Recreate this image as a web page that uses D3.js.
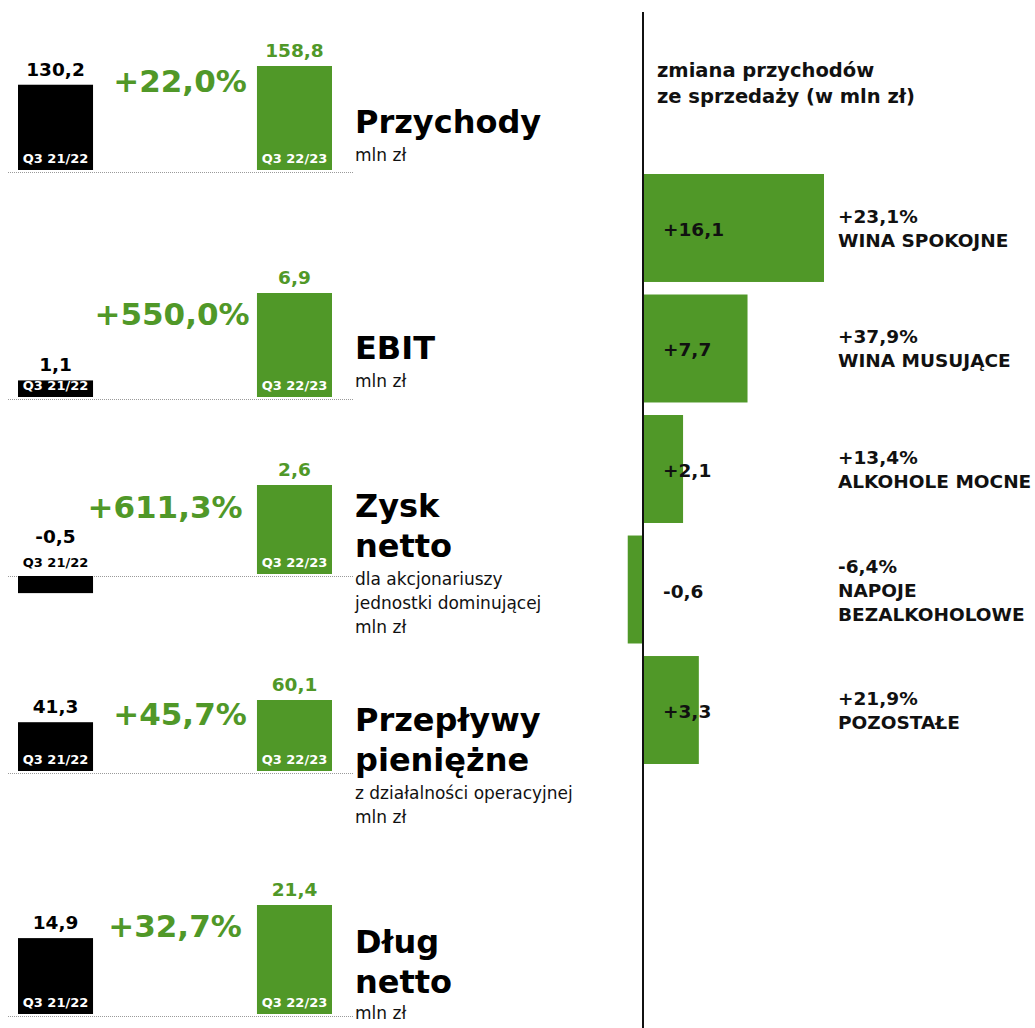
<!DOCTYPE html>
<html lang="pl">

<head>
  <meta charset="utf-8">
  <title>Wyniki Q3 22/23</title>
  <script src="https://cdn.jsdelivr.net/npm/d3@7/dist/d3.min.js"></script>
  <style>
    body { margin: 0; background: #fff; }
    svg text { font-family: "DejaVu Sans", Verdana, sans-serif; }
  </style>
</head>

<body>
  <script>
    // ---- data ----
    var periods = ["Q3 21/22", "Q3 22/23"];
    var prevValues = [130.2, 1.1, -0.5, 41.3, 14.9];
    var currValues = [158.8, 6.9, 2.6, 60.1, 21.4];
    var changeLabels = ["+22,0%", "+550,0%", "+611,3%", "+45,7%", "+32,7%"];
    var titles = [["Przychody"], ["EBIT"], ["Zysk", "netto"], ["Przepływy", "pieniężne"], ["Dług", "netto"]];
    var subtitles = [["mln zł"], ["mln zł"], ["dla akcjonariuszy", "jednostki dominującej", "mln zł"],
                     ["z działalności operacyjnej", "mln zł"], ["mln zł"]];

    var segments = ["WINA SPOKOJNE", "WINA MUSUJĄCE", "ALKOHOLE MOCNE", "NAPOJE BEZALKOHOLOWE", "POZOSTAŁE"];
    var segmentLines = [["WINA SPOKOJNE"], ["WINA MUSUJĄCE"], ["ALKOHOLE MOCNE"], ["NAPOJE", "BEZALKOHOLOWE"], ["POZOSTAŁE"]];
    var segmentChange = [16.1, 7.7, 2.1, -0.6, 3.3];
    var segmentPct = ["+23,1%", "+37,9%", "+13,4%", "-6,4%", "+21,9%"];
    var panelTitle = ["zmiana przychodów", "ze sprzedaży (w mln zł)"];

    // ---- layout ----
    var w = 1035;
    var h = 1028;
    var green = "#509828";
    var rowBase = [172, 399, 576, 773, 1016];
    var rowBarMax = [104, 104, 89, 71, 109];
    var changeX = [180, 172, 165, 180, 175];
    var changeY = [92, 325, 518, 725, 937];
    var titleY = [133, 359, 517, 731, 953];
    var subY = [161, 387, 585, 799, 1019];

    var fmt = function (v) { return String(v.toFixed(1)).replace(".", ","); };
    var fmtSigned = function (v) { return (v > 0 ? "+" : "") + fmt(v); };

    var svg = d3.select("body").append("svg")
                .attr("width", w)
                .attr("height", h);

    // ---- left panel: five KPI rows ----
    var x = d3.scaleBand()
              .domain(periods)
              .range([18, 332])
              .paddingInner(0.686);

    var left = svg.append("g").classed("kpis", true);

    prevValues.forEach(function (prev, i) {
      var base = rowBase[i];
      var vals = [prev, currValues[i]];
      var y = d3.scaleLinear()
                .domain([0, d3.max(vals)])
                .range([0, rowBarMax[i]]);
      var g = left.append("g").classed("row", true);

      g.append("line")
       .attr("x1", 8).attr("x2", 353)
       .attr("y1", base + 0.5).attr("y2", base + 0.5)
       .attr("stroke", "#9a9a9a")
       .attr("stroke-width", 1)
       .attr("stroke-dasharray", "1,1");

      var bars = g.selectAll(".bar")
                  .data(vals)
                  .enter()
                  .append("g")
                  .classed("bar", true);

      bars.append("rect")
          .attr("x", function (d, k) { return x(periods[k]); })
          .attr("width", x.bandwidth())
          .attr("y", function (d) { return d >= 0 ? base - 2 - y(d) : base; })
          .attr("height", function (d) { return Math.abs(y(d)); })
          .attr("fill", function (d, k) { return k === 0 ? "#000" : green; });

      bars.append("text")
          .attr("x", function (d, k) { return x(periods[k]) + x.bandwidth() / 2; })
          .attr("y", base - 9)
          .attr("text-anchor", "middle")
          .attr("font-size", 13)
          .attr("font-weight", "bold")
          .attr("fill", function (d) { return d >= 0 ? "#fff" : "#000"; })
          .text(function (d, k) { return periods[k]; });

      bars.append("text")
          .attr("x", function (d, k) { return x(periods[k]) + x.bandwidth() / 2; })
          .attr("y", function (d) { return d >= 0 ? base - 2 - y(d) - 9 : base - 33; })
          .attr("text-anchor", "middle")
          .attr("font-size", 18.5)
          .attr("font-weight", "bold")
          .attr("fill", function (d, k) { return k === 0 ? "#000" : green; })
          .text(function (d) { return fmt(d); });

      g.append("text")
       .attr("x", changeX[i])
       .attr("y", changeY[i])
       .attr("text-anchor", "middle")
       .attr("font-size", 31)
       .attr("font-weight", "bold")
       .attr("fill", green)
       .text(changeLabels[i]);

      g.selectAll(".title")
       .data(titles[i])
       .enter()
       .append("text")
       .classed("title", true)
       .attr("x", 355)
       .attr("y", function (d, k) { return titleY[i] + k * 40; })
       .attr("font-size", 32)
       .attr("font-weight", "bold")
       .attr("fill", "#000")
       .text(function (d) { return d; });

      g.selectAll(".sub")
       .data(subtitles[i])
       .enter()
       .append("text")
       .classed("sub", true)
       .attr("x", 355)
       .attr("y", function (d, k) { return subY[i] + k * 24; })
       .attr("font-size", 17)
       .attr("fill", "#111")
       .text(function (d) { return d; });
    });

    // ---- right panel: segment change ----
    var axisX = 643;
    var right = svg.append("g").classed("segments", true);

    var sx = d3.scalePow()
               .exponent(0.75)
               .domain([0, 16.1])
               .range([0, 180]);
    var sy = d3.scaleBand()
               .domain(segments)
               .range([174, 764])
               .paddingInner(0.104);

    right.selectAll(".title")
         .data(panelTitle)
         .enter()
         .append("text")
         .classed("title", true)
         .attr("x", 657)
         .attr("y", function (d, k) { return 77 + k * 26; })
         .attr("font-size", 19.5)
         .attr("font-weight", "bold")
         .attr("fill", "#111")
         .text(function (d) { return d; });

    var seg = right.selectAll(".seg")
                   .data(segments)
                   .enter()
                   .append("g")
                   .classed("seg", true);

    seg.append("rect")
       .attr("x", function (d, i) { var v = segmentChange[i]; return v >= 0 ? axisX + 1 : axisX + sx(v); })
       .attr("width", function (d, i) { return Math.abs(sx(segmentChange[i])); })
       .attr("y", function (d) { return sy(d); })
       .attr("height", sy.bandwidth())
       .attr("fill", green);

    seg.append("text")
       .attr("x", 663)
       .attr("y", function (d) { return sy(d) + sy.bandwidth() / 2 + 8; })
       .attr("font-size", 18.5)
       .attr("font-weight", "bold")
       .attr("fill", "#111")
       .text(function (d, i) { return fmtSigned(segmentChange[i]); });

    seg.each(function (d, i) {
      var lines = [segmentPct[i]].concat(segmentLines[i]);
      var mid = sy(d) + sy.bandwidth() / 2;
      d3.select(this).selectAll(".lbl")
        .data(lines)
        .enter()
        .append("text")
        .classed("lbl", true)
        .attr("x", 838)
        .attr("y", function (t, k) { return mid + 7 + 24 * (k - (lines.length - 1) / 2); })
        .attr("font-size", 18.5)
        .attr("font-weight", "bold")
        .attr("fill", "#111")
        .text(function (t) { return t; });
    });

    right.append("line")
         .attr("x1", axisX).attr("x2", axisX)
         .attr("y1", 12).attr("y2", h)
         .attr("stroke", "#111")
         .attr("stroke-width", 2);
  </script>
</body>

</html>
